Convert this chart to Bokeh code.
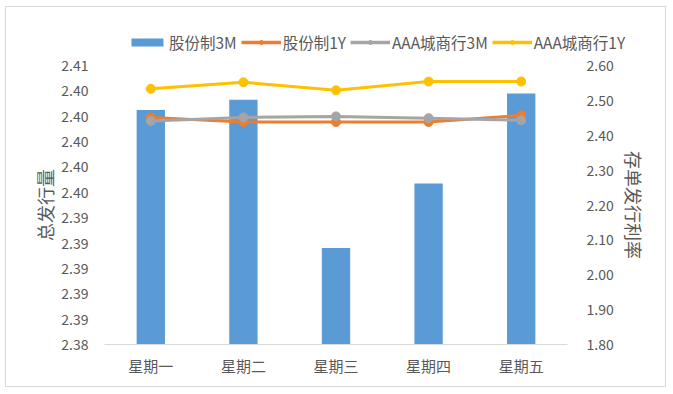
from bokeh.plotting import figure
from bokeh.layouts import column
from bokeh.models import (Range1d, LinearAxis, FixedTicker, NumeralTickFormatter,
                          Legend, LegendItem, FactorRange, ColumnDataSource)
from bokeh.embed import file_html
from bokeh.resources import INLINE

days = ["星期一", "星期二", "星期三", "星期四", "星期五"]
gufen_3m = [2.4025, 2.4033, 2.3916, 2.3967, 2.4038]   # 总发行量 (left axis)
gufen_1y = [2.451, 2.438, 2.438, 2.438, 2.457]        # 存单发行利率 (right axis)
aaa_3m = [2.441, 2.451, 2.454, 2.449, 2.443]
aaa_1y = [2.533, 2.552, 2.529, 2.554, 2.554]

left_ticks = [2.384, 2.386, 2.388, 2.390, 2.392, 2.394, 2.396, 2.398, 2.400, 2.402, 2.404, 2.406]
right_ticks = [1.80, 1.90, 2.00, 2.10, 2.20, 2.30, 2.40, 2.50, 2.60]

FONT = "Noto Sans CJK SC"
TXT = "#595959"
BAR_C = "#5B9BD5"
series = [("g1", "#ED7D31", "股份制1Y"), ("a3", "#A5A5A5", "AAA城商行3M"), ("a1", "#FFC000", "AAA城商行1Y")]

src = ColumnDataSource(dict(day=days, g3=gufen_3m, g1=gufen_1y, a3=aaa_3m, a1=aaa_1y))

# ---------------- main chart ----------------
p = figure(x_range=FactorRange(*days), y_range=Range1d(left_ticks[0], left_ticks[-1]),
           width=659, height=332, output_backend="svg", toolbar_location=None,
           min_border_left=98, min_border_right=98, min_border_top=11, min_border_bottom=42)
p.outline_line_color = None
p.xgrid.grid_line_color = None
p.ygrid.grid_line_color = None
p.extra_y_ranges = {"rate": Range1d(right_ticks[0], right_ticks[-1])}

ya = p.yaxis[0]
ya.ticker = FixedTicker(ticks=left_ticks)
ya.formatter = NumeralTickFormatter(format="0.00")
ya.axis_label = "总发行量"

ra = LinearAxis(y_range_name="rate", ticker=FixedTicker(ticks=right_ticks),
                formatter=NumeralTickFormatter(format="0.00"), axis_label="存单发行利率")
p.add_layout(ra, "right")

for ax, so, lso in ((ya, 16, 0), (ra, 19, 4)):
    ax.axis_line_color = None
    ax.major_tick_line_color = None
    ax.minor_tick_line_color = None
    ax.major_tick_out = 0
    ax.minor_tick_out = 0
    ax.major_label_standoff = so
    ax.axis_label_standoff = lso
    ax.major_label_text_font = FONT
    ax.major_label_text_font_size = "14px"
    ax.major_label_text_color = TXT
    ax.axis_label_text_font = FONT
    ax.axis_label_text_font_size = "18px"
    ax.axis_label_text_font_style = "normal"
    ax.axis_label_text_color = TXT

xa = p.xaxis[0]
xa.axis_line_color = "#d9d9d9"
xa.axis_line_width = 1
xa.major_tick_line_color = None
xa.minor_tick_line_color = None
xa.major_tick_out = 0
xa.minor_tick_out = 0
xa.major_label_standoff = 10
xa.major_label_text_font = FONT
xa.major_label_text_font_size = "15px"
xa.major_label_text_color = TXT

p.vbar(x="day", top="g3", bottom=left_ticks[0], width=0.306, source=src,
       fill_color=BAR_C, line_color=None)
for col, color, label in series:
    p.line(x="day", y=col, source=src, y_range_name="rate", line_color=color, line_width=3)
    p.scatter(x="day", y=col, source=src, y_range_name="rate", size=9,
              fill_color=color, line_color=color)

# ---------------- legend strip (above the chart) ----------------
lf = figure(width=659, height=47, output_backend="svg", toolbar_location=None,
            x_axis_type=None, y_axis_type=None, min_border=0,
            x_range=Range1d(0, 1), y_range=Range1d(0, 1))
lf.frame_align = False
lf.outline_line_color = None
# legend-only renderers: no drawable data (NaN), they only provide legend swatches
nan = float("nan")
swatch = ColumnDataSource(dict(x=[nan], y=[nan]))
items = [LegendItem(label="股份制3M",
                    renderers=[lf.vbar(x="x", top="y", width=1, source=swatch,
                                       fill_color=BAR_C, line_color=None)])]
for col, color, label in series:
    lr = lf.line(x="x", y="y", source=swatch, line_color=color, line_width=3.5)
    cr = lf.scatter(x="x", y="y", source=swatch, size=10, fill_color=color, line_color=color)
    items.append(LegendItem(label=label, renderers=[lr, cr]))

legend = Legend(items=items, orientation="horizontal", location=(121, 1),
                padding=0, margin=0, spacing=4, label_standoff=2,
                glyph_width=40, glyph_height=10,
                label_text_font=FONT, label_text_font_size="15.5px", label_text_color=TXT,
                border_line_color=None, background_fill_alpha=0)
lf.add_layout(legend, "center")

layout = column(lf, p, spacing=0)
layout.styles = {"border": "1px solid #d9d9d9", "margin-left": "5px", "margin-top": "6px"}

open("out.html", "w").write(file_html(layout, INLINE))
